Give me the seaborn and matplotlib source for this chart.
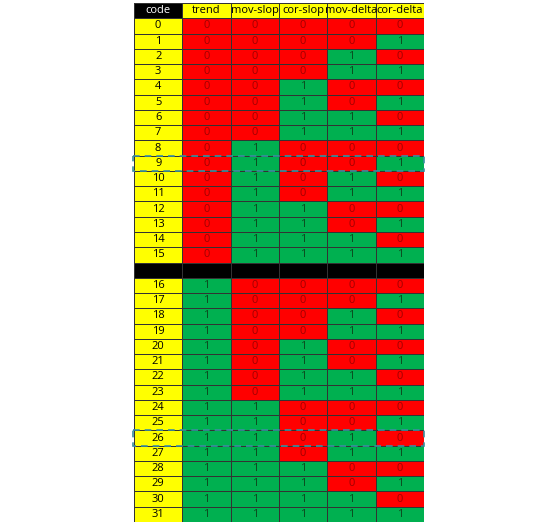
import numpy as np
import pandas as pd
import matplotlib
matplotlib.use("Agg")
import matplotlib.pyplot as plt
from matplotlib.colors import ListedColormap
from matplotlib.patches import Rectangle
import seaborn as sns

columns = ["code", "trend", "mov-slop", "cor-slop", "mov-delta", "cor-delta"]
codes = list(range(32))
# bit values per code (trend, mov-slop, cor-slop, mov-delta, cor-delta)
bits = [[(c >> s) & 1 for s in (4, 3, 2, 1, 0)] for c in codes]
highlight_codes = [9, 26]

plt.rcParams['font.family'] = ['Open Sans', 'DejaVu Sans']

# category: 0 red, 1 green, 2 yellow, 3 black
cat_rows, txt_rows = [], []
cat_rows.append([3] + [2] * 5); txt_rows.append(columns)
row_of_code = {}
for c in codes:
    if c == 16:
        cat_rows.append([3] * 6); txt_rows.append([""] * 6)
    row_of_code[c] = len(cat_rows)
    cat_rows.append([2] + bits[c]); txt_rows.append([str(c)] + [str(b) for b in bits[c]])
cat = np.array(cat_rows)
txt = np.array(txt_rows)

cmap = ListedColormap(["#ff0000", "#00b050", "#ffff00", "#000000"])
fig = plt.figure(figsize=(5.6, 5.26), dpi=100)
ax = fig.add_axes([134/560, 4/526, 290/560, 519/526])
sns.heatmap(pd.DataFrame(cat), ax=ax, cmap=cmap, vmin=-0.5, vmax=3.5, cbar=False,
            annot=txt, fmt="", linewidths=0.6, linecolor="#333333",
            annot_kws={"fontsize": 8})
ax.set_xticks([]); ax.set_yticks([])
ax.set_xlabel(""); ax.set_ylabel("")
tc = {0: "#a00000", 1: "#0b4a1e", 2: "#000000", 3: "#ffffff"}
for t in ax.texts:
    x, y = t.get_position()
    t.set_color(tc[cat[int(y), int(x)]])
for c in highlight_codes:
    r = row_of_code[c]
    ax.add_patch(Rectangle((-0.02, r), 6.02, 1, fill=False, ls=(0, (4, 3)),
                           ec="#3a8fa0", lw=1.2, clip_on=False))
fig.savefig("out.png", dpi=100)
